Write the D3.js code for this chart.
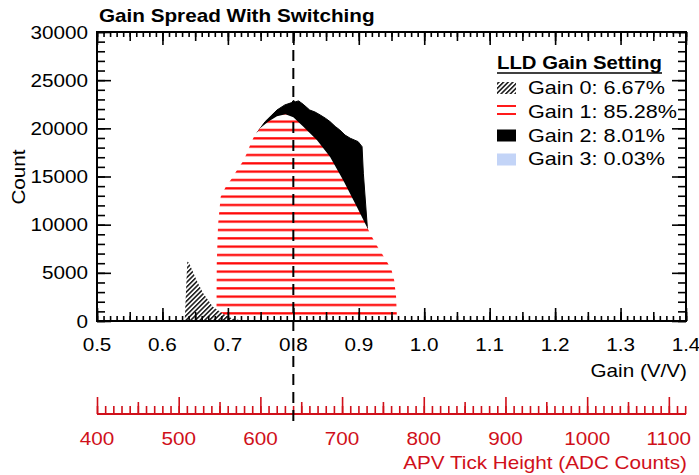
<!DOCTYPE html>
<html>
<head>
<meta charset="utf-8">
<script src="https://cdn.jsdelivr.net/npm/d3@7/dist/d3.min.js"></script>
<style>
  html, body { margin: 0; padding: 0; background: #fff; }
  svg { display: block; font-family: 'Liberation Sans', Arial, sans-serif; }
</style>
</head>
<body>
<div id="chart"></div>
<script>
  // tick labels
  var gainTicks = [0.5, 0.6, 0.7, 0.8, 0.9, 1.0, 1.1, 1.2, 1.3, 1.4];
  var countTicks = [0, 5000, 10000, 15000, 20000, 25000, 30000];
  var adcTicks = [400, 500, 600, 700, 800, 900, 1000, 1100];

  // Gain 0 (hatched)
  var gain0Gain = [0.634, 0.638, 0.641, 0.652, 0.662, 0.677, 0.693, 0.705, 0.72, 0.73];
  var gain0Count = [0, 6200, 6000, 4260, 2900, 1480, 730, 300, 50, 0];

  // Gain 1 (red lines)
  var gain1Gain = [0.6825, 0.683, 0.685, 0.689, 0.697, 0.706, 0.714, 0.7226, 0.729, 0.734, 0.740, 0.749, 0.762,
    0.775, 0.788, 0.800, 0.815, 0.836, 0.856, 0.876, 0.897, 0.912, 0.920, 0.927, 0.935, 0.943, 0.950,
    0.954, 0.957, 0.958, 0.9585];
  var gain1Count = [0, 6000, 10000, 12900, 13950, 14800, 15680, 16540, 17410, 18280, 19140, 20010, 20700,
    21250, 21450, 21150, 20180, 18800, 17060, 14640, 11870, 9800, 8750, 7890, 7030, 6160, 5300,
    4260, 2520, 800, 0];

  // Gain 2 (black)
  var gain2Gain = [0.745, 0.757, 0.766, 0.775, 0.787, 0.7975, 0.800, 0.803, 0.808, 0.815, 0.825, 0.833, 0.841,
    0.849, 0.856, 0.864, 0.871, 0.879, 0.887, 0.899, 0.905, 0.907, 0.910, 0.913, 0.914];
  var gain2Count = [19600, 20700, 21300, 21900, 22430, 22670, 22900, 22750, 22850, 22500, 21900, 21700, 21390,
    21050, 20700, 20200, 19830, 19300, 18970, 18620, 18100, 15340, 12560, 9800, 9000];

  // Gain 3 (light blue, almost empty)
  var gain3Gain = [0.958, 0.962, 0.966];
  var gain3Count = [0, 30, 0];

  var legendLabels = ['Gain 0: 6.67%', 'Gain 1: 85.28%', 'Gain 2: 8.01%', 'Gain 3: 0.03%'];

  var W = 699, H = 475;
  var plotL = 97, plotR = 686, plotT = 32, plotB = 321;
  var red = '#d0101a';
  var SX = 1.15;

  var svg = d3.select('#chart').append('svg')
    .attr('width', W)
    .attr('height', H);

  var defs = svg.append('defs');

  // diagonal "///" hatch for gain 0
  var hatch = defs.append('pattern')
    .attr('id', 'hatch')
    .attr('patternUnits', 'userSpaceOnUse')
    .attr('width', 3.3)
    .attr('height', 3.3)
    .attr('patternTransform', 'rotate(45)');
  hatch.append('rect').attr('width', 3.3).attr('height', 3.3).attr('fill', '#fff');
  hatch.append('rect')
    .attr('x', 0.9).attr('y', 0)
    .attr('width', 1.4).attr('height', 3.3)
    .attr('fill', '#000');

  var lines = defs.append('pattern')
    .attr('id', 'redLines')
    .attr('patternUnits', 'userSpaceOnUse')
    .attr('width', 10)
    .attr('height', 8.333);
  lines.append('rect').attr('width', 10).attr('height', 8.333).attr('fill', '#fff');
  lines.append('rect').attr('y', 3.9).attr('width', 10).attr('height', 2.2).attr('fill', '#ff0000');

  var x = d3.scaleLinear().domain([0.5, 1.4]).range([plotL, plotR]);
  var y = d3.scaleLinear().domain([0, 30000]).range([plotB, plotT]);
  var adc = d3.scaleLinear().domain([400, 1121]).range([plotL, plotR]);

  function addText(parent, tx, ty, str, size, anchor, opts) {
    opts = opts || {};
    var t = parent.append('text')
      .attr('transform', 'translate(' + tx + ',' + ty + ')' + (opts.rotate ? ' rotate(' + opts.rotate + ')' : '') + ' scale(' + (opts.sx || SX) + ',1)')
      .attr('text-anchor', anchor)
      .style('font-size', size + 'px')
      .style('fill', opts.fill || '#000')
      .text(str);
    if (opts.bold) t.style('font-weight', 'bold');
    return t;
  }

  function zip(gs, cs) {
    return gs.map(function (g, i) { return { g: g, c: cs[i] }; });
  }

  var area = d3.area()
    .x(function (d) { return x(d.g); })
    .y0(y(0))
    .y1(function (d) { return y(d.c); });

  // areas
  svg.append('path')
    .datum(zip(gain2Gain, gain2Count))
    .attr('d', area)
    .attr('fill', '#000')
    .attr('stroke', '#000')
    .attr('stroke-width', 1);

  svg.append('path')
    .datum(zip(gain1Gain, gain1Count))
    .attr('d', area)
    .attr('fill', 'url(#redLines)');

  svg.append('path')
    .datum(zip(gain0Gain, gain0Count))
    .attr('d', area)
    .attr('fill', 'url(#hatch)');

  svg.append('path')
    .datum(zip(gain3Gain, gain3Count))
    .attr('d', area)
    .attr('fill', '#c3d4f7');

  // frame + ticks
  function tickSet(axisFn, scale, values, size, pos, color) {
    var g = svg.append('g')
      .attr('transform', pos)
      .call(axisFn(scale).tickValues(values).tickSize(size).tickFormat(''));
    g.select('.domain').remove();
    g.selectAll('line').attr('stroke', color || '#000').attr('stroke-width', 1.6);
    return g;
  }

  var xMinor = d3.range(50, 141).map(function (v) { return v / 100; });
  var xMid = d3.range(10, 29).map(function (v) { return v / 20; });
  var yMinor = d3.range(0, 30001, 1000);

  tickSet(d3.axisBottom, x, xMinor, -5, 'translate(0,' + plotB + ')');
  tickSet(d3.axisBottom, x, xMid, -9, 'translate(0,' + plotB + ')');
  tickSet(d3.axisBottom, x, gainTicks, -13, 'translate(0,' + plotB + ')');
  tickSet(d3.axisTop, x, xMinor, -5, 'translate(0,' + plotT + ')');
  tickSet(d3.axisTop, x, xMid, -9, 'translate(0,' + plotT + ')');
  tickSet(d3.axisTop, x, gainTicks, -13, 'translate(0,' + plotT + ')');
  tickSet(d3.axisLeft, y, yMinor, -8, 'translate(' + plotL + ',0)');
  tickSet(d3.axisLeft, y, countTicks, -14, 'translate(' + plotL + ',0)');
  tickSet(d3.axisRight, y, yMinor, -8, 'translate(' + plotR + ',0)');
  tickSet(d3.axisRight, y, countTicks, -14, 'translate(' + plotR + ',0)');

  svg.append('rect')
    .attr('x', plotL).attr('y', plotT)
    .attr('width', plotR - plotL).attr('height', plotB - plotT)
    .attr('fill', 'none')
    .attr('stroke', '#000')
    .attr('stroke-width', 2);

  // red ADC axis
  var adcY = 414;
  var adcMinor = d3.range(400, 1121, 10);
  var adcMid = d3.range(450, 1121, 100);
  tickSet(d3.axisBottom, adc, adcMinor, -8, 'translate(0,' + adcY + ')', red);
  tickSet(d3.axisBottom, adc, adcMid, -12, 'translate(0,' + adcY + ')', red);
  tickSet(d3.axisBottom, adc, adcTicks, -17, 'translate(0,' + adcY + ')', red);
  svg.append('line')
    .attr('x1', plotL).attr('x2', plotR)
    .attr('y1', adcY).attr('y2', adcY)
    .attr('stroke', red).attr('stroke-width', 2);

  // dashed line at 0.8
  svg.append('line')
    .attr('x1', x(0.8)).attr('x2', x(0.8))
    .attr('y1', plotT).attr('y2', 421)
    .attr('stroke', '#000')
    .attr('stroke-width', 2)
    .attr('stroke-dasharray', '11,7');

  // labels
  gainTicks.forEach(function (v) {
    addText(svg, x(v), 351, d3.format('.1f')(v), 18, 'middle');
  });
  countTicks.forEach(function (v) {
    addText(svg, 88, y(v) + 6.5, String(v), 18, 'end');
  });
  adcTicks.forEach(function (v) {
    addText(svg, adc(v), 445, String(v), 18, 'middle', { fill: red });
  });

  addText(svg, 687, 377, 'Gain (V/V)', 18, 'end');
  addText(svg, 687, 469, 'APV Tick Height (ADC Counts)', 18, 'end', { fill: red });
  addText(svg, 25, 177, 'Count', 18, 'middle', { rotate: -90 });
  addText(svg, 99, 22, 'Gain Spread With Switching', 18, 'start', { bold: true, sx: 1.15 });

  // legend
  var lg = svg.append('g');
  addText(lg, 497, 69, 'LLD Gain Setting', 18, 'start', { bold: true, sx: 1.13 });
  lg.append('line')
    .attr('x1', 497).attr('x2', 662)
    .attr('y1', 73).attr('y2', 73)
    .attr('stroke', '#000').attr('stroke-width', 1.6);

  var rowY = [94, 117.5, 141.5, 165];
  lg.append('rect').attr('x', 497).attr('y', 82).attr('width', 19).attr('height', 12).attr('fill', 'url(#hatch)');
  lg.append('line').attr('x1', 497).attr('x2', 516).attr('y1', 106).attr('y2', 106).attr('stroke', '#ff0000').attr('stroke-width', 1.8);
  lg.append('line').attr('x1', 497).attr('x2', 516).attr('y1', 114).attr('y2', 114).attr('stroke', '#ff0000').attr('stroke-width', 1.8);
  lg.append('rect').attr('x', 497).attr('y', 129.5).attr('width', 19).attr('height', 12).attr('fill', '#000');
  lg.append('rect').attr('x', 497).attr('y', 153.5).attr('width', 19).attr('height', 12).attr('fill', '#c3d4f7');

  legendLabels.forEach(function (s, i) {
    addText(lg, 528, rowY[i], s, 18, 'start', { sx: 1.2 });
  });
</script>
</body>
</html>
